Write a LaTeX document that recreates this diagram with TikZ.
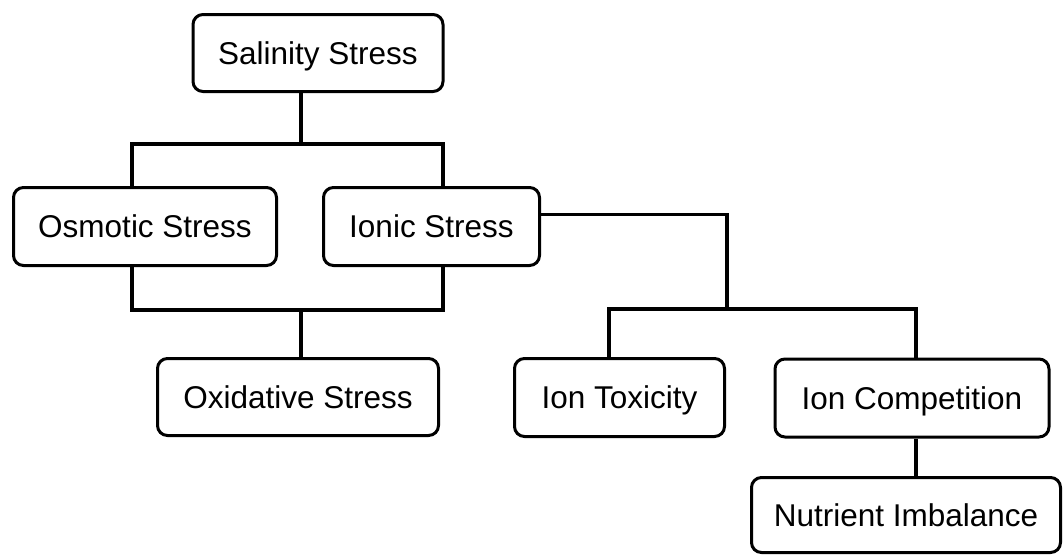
\documentclass[tikz,border=0pt]{standalone}
\usepackage{fontspec}
\setmainfont{Liberation Sans}
\usetikzlibrary{calc}

\begin{document}
\begin{tikzpicture}[x=1pt,y=-1pt,
  box/.style={draw, line width=3pt, rounded corners=10pt, inner sep=0pt,
    text height=22.5pt, text depth=0pt,
    font=\fontsize{31.5}{37}\selectfont},
  link/.style={line width=3.6pt}]
\useasboundingbox (0,0) rectangle (1063,555);
\node[box, minimum width=250pt, minimum height=77pt] (sal) at (318,53) {Salinity Stress};
\node[box, minimum width=263pt, minimum height=78pt] (osm) at (145,226.5) {Osmotic Stress};
\node[box, minimum width=216pt, minimum height=78pt] (ion) at (431.5,226.5) {Ionic Stress};
\node[box, minimum width=281pt, minimum height=77pt] (oxi) at (298,397) {Oxidative Stress};
\node[box, minimum width=210pt, minimum height=78pt] (tox) at (619.5,397.5) {Ion Toxicity};
\node[box, minimum width=274pt, minimum height=78pt] (comp) at (912,398) {Ion Competition};
\node[box, minimum width=309pt, minimum height=75pt] (nut) at (906,515) {Nutrient Imbalance};
% junctions
\coordinate (split) at (301,144);
\coordinate (merge) at (301,310);
\coordinate (elbow) at (727,309);
\coordinate (osmx) at (132,0);
\coordinate (ionx) at (443,0);
\coordinate (toxx) at (609,0);
\coordinate (compx) at (916,0);
% salinity to osmotic and ionic
\draw[link] (sal.south -| split) -- (split);
\draw[link] (osm.north -| osmx) |- (split) -| (ion.north -| ionx);
% osmotic and ionic to oxidative
\draw[link] (osm.south -| osmx) |- (merge) -| (ion.south -| ionx);
\draw[link] (merge) -- (oxi.north -| merge);
% ionic to toxicity and competition
\draw[link] ([yshift=12pt]ion.east) -| (elbow);
\draw[link] (tox.north -| toxx) |- (elbow) -| (comp.north -| compx);
\draw[link] (comp.south -| compx) -- (nut.north -| compx);
\end{tikzpicture}
\end{document}
